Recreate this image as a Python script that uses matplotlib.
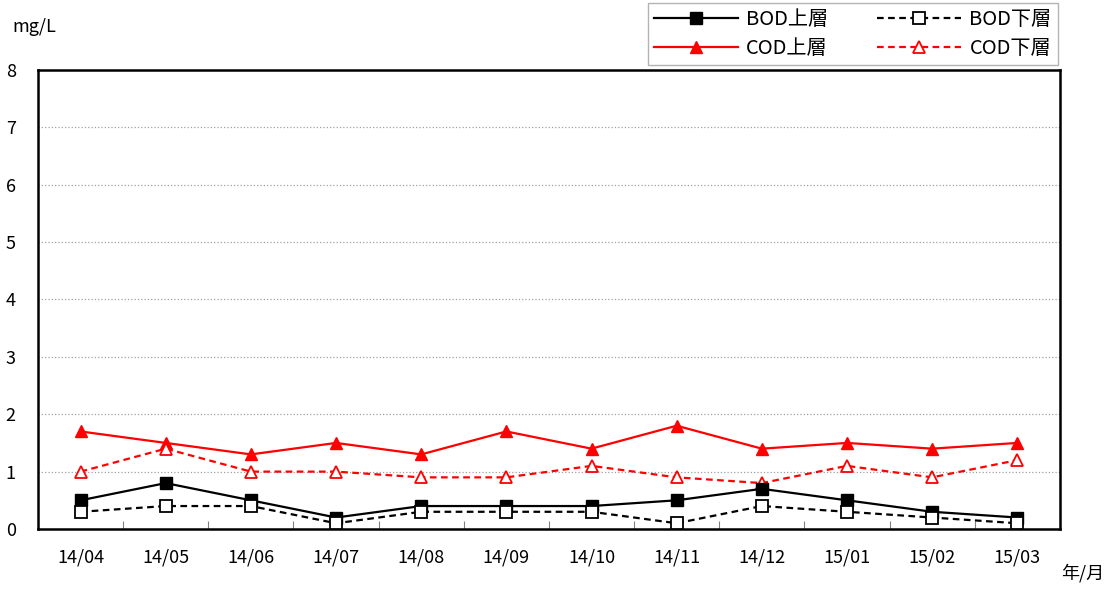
import matplotlib
matplotlib.use('Agg')
import matplotlib.pyplot as plt
import numpy as np

plt.rcParams['font.family'] = ['Noto Sans CJK JP', 'DejaVu Sans']

months = ['14/04', '14/05', '14/06', '14/07', '14/08', '14/09',
          '14/10', '14/11', '14/12', '15/01', '15/02', '15/03']
bod_upper = [0.5, 0.8, 0.5, 0.2, 0.4, 0.4, 0.4, 0.5, 0.7, 0.5, 0.3, 0.2]
bod_lower = [0.3, 0.4, 0.4, 0.1, 0.3, 0.3, 0.3, 0.1, 0.4, 0.3, 0.2, 0.1]
cod_upper = [1.7, 1.5, 1.3, 1.5, 1.3, 1.7, 1.4, 1.8, 1.4, 1.5, 1.4, 1.5]
cod_lower = [1.0, 1.4, 1.0, 1.0, 0.9, 0.9, 1.1, 0.9, 0.8, 1.1, 0.9, 1.2]

fig = plt.figure(figsize=(11.18, 5.90), dpi=100)
ax = fig.add_axes([0.034, 0.1034, 0.914, 0.778])

x = np.arange(len(months))
l1, = ax.plot(x, bod_upper, color='black', lw=1.6, marker='s', ms=8,
              mfc='black', mec='black', label='BOD上層', zorder=4)
l2, = ax.plot(x, bod_lower, color='black', lw=1.6, ls=(0, (3, 2)), marker='s', ms=8,
              mfc='white', mec='black', mew=1.3, label='BOD下層', zorder=5)
l3, = ax.plot(x, cod_upper, color='red', lw=1.6, marker='^', ms=9,
              mfc='red', mec='red', label='COD上層', zorder=3)
l4, = ax.plot(x, cod_lower, color='red', lw=1.6, ls=(0, (3, 2)), marker='^', ms=9,
              mfc='white', mec='red', mew=1.3, label='COD下層', zorder=3)

ax.set_xlim(-0.5, len(months) - 0.5)
ax.set_ylim(0, 8)
ax.set_yticks(range(0, 9))
ax.set_xticks(x)
ax.set_xticklabels(months)
ax.set_xticks(np.arange(0.5, len(months) - 1, 1.0), minor=True)
ax.tick_params(axis='x', which='major', length=0, pad=14, labelsize=13)
ax.tick_params(axis='x', which='minor', direction='in', length=6, width=0.8, color='#808080')
ax.tick_params(axis='y', length=0, pad=16, labelsize=13)
ax.yaxis.grid(True, color='#a0a0a0', ls=':', lw=0.9)
ax.set_axisbelow(True)
for s in ax.spines.values():
    s.set_linewidth(1.8)
    s.set_color('black')

fig.text(0.011, 0.955, 'mg/L', fontsize=13, ha='left', va='center')
fig.text(0.949, 0.028, '年/月', fontsize=13, ha='left', va='center')

# row-wise order: BOD上 BOD下 / COD上 COD下 (legend fills columns first)
leg = fig.legend([l1, l3, l2, l4], ['BOD上層', 'COD上層', 'BOD下層', 'COD下層'],
                 loc='upper right', bbox_to_anchor=(0.946, 0.995), ncol=2,
                 fontsize=14.5, frameon=True, fancybox=False, edgecolor='#a0a0a0',
                 handlelength=4.2, handletextpad=0.4, columnspacing=2.4,
                 borderpad=0.3, labelspacing=0.42, borderaxespad=0)
leg.get_frame().set_linewidth(1.0)

fig.savefig('out.png', dpi=100)
